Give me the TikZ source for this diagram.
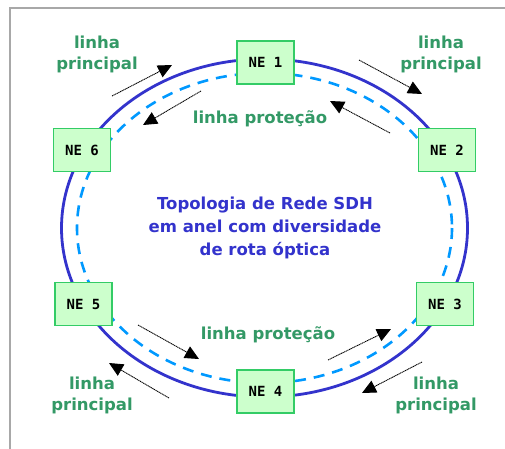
\documentclass[tikz,border=0pt]{standalone}
\usepackage{fontspec}
\setmainfont{DejaVu Sans}
\newfontfamily\nefont{DejaVu Sans Mono}
\usetikzlibrary{arrows.meta}
\definecolor{ringblue}{HTML}{3333CC}
\definecolor{protblue}{HTML}{0099FF}
\definecolor{lblgreen}{HTML}{339966}
\definecolor{nefill}{HTML}{CCFFCC}
\definecolor{nedraw}{HTML}{33CC66}
\definecolor{framegray}{HTML}{A8A8A8}
\begin{document}
\begin{tikzpicture}[x=1pt,y=-1pt,
 nebox/.style={draw=nedraw, fill=nefill, line width=1.5pt, minimum width=57pt, minimum height=43pt, inner sep=0pt, font=\nefont\bfseries\fontsize{14}{14}\selectfont},
 lbl/.style={text=lblgreen, font=\bfseries\fontsize{16.5}{21}\selectfont, align=center, inner sep=0pt},
 title/.style={text=ringblue, font=\bfseries\fontsize{16.5}{23}\selectfont, align=center, inner sep=0pt},
 flow/.style={line width=0.9pt, dash pattern=on 1.2pt off 0.6pt, -{Triangle[length=14pt,width=13pt]}}
]
\useasboundingbox (0,0) rectangle (505,448);
\fill[white] (0,0) rectangle (505,448);
\draw[framegray, line width=2pt] (10,8) rectangle (530,470);
% rings
\draw[ringblue, line width=2.8pt] (264.5,228) ellipse [x radius=203, y radius=169];
\draw[protblue, line width=2.6pt, dash pattern=on 11pt off 8pt] (264.5,228) ellipse [x radius=187.5, y radius=155];
% nodes
\node[nebox] (ne1) at (265.5,62.5) {NE 1};
\node[nebox] (ne2) at (447,150) {NE 2};
\node[nebox] (ne3) at (445,304) {NE 3};
\node[nebox] (ne4) at (265.5,391.5) {NE 4};
\node[nebox] (ne5) at (83.5,304) {NE 5};
\node[nebox] (ne6) at (82,150) {NE 6};
% center text
\node[title] (ttl) at (265,228) {Topologia de Rede SDH\\em anel com diversidade\\de rota óptica};
% labels
\node[lbl] (ltl) at (97,54) {linha\\principal};
\node[lbl] (ltr) at (441,54) {linha\\principal};
\node[lbl] (lbl1) at (92,395) {linha\\principal};
\node[lbl] (lbr) at (436,395) {linha\\principal};
\node[lbl] (ptop) at (260,119) {linha proteção};
\node[lbl] (pbot) at (268,335) {linha proteção};
% arrows
\coordinate (a1s) at (112,96);  \coordinate (a1e) at (172,65);
\coordinate (a2s) at (201,91);  \coordinate (a2e) at (143,125);
\coordinate (a3s) at (359,60);  \coordinate (a3e) at (422,94);
\coordinate (a4s) at (390,133); \coordinate (a4e) at (330,101);
\coordinate (a5s) at (138,325); \coordinate (a5e) at (199,359);
\coordinate (a6s) at (169,398); \coordinate (a6e) at (109,363);
\coordinate (a7s) at (328,360); \coordinate (a7e) at (391,329);
\coordinate (a8s) at (422,362); \coordinate (a8e) at (362,393);
\draw[flow] (a1s) -- (a1e);
\draw[flow] (a2s) -- (a2e);
\draw[flow] (a3s) -- (a3e);
\draw[flow] (a4s) -- (a4e);
\draw[flow] (a5s) -- (a5e);
\draw[flow] (a6s) -- (a6e);
\draw[flow] (a7s) -- (a7e);
\draw[flow] (a8s) -- (a8e);
\end{tikzpicture}
\end{document}
